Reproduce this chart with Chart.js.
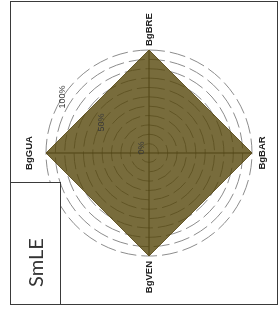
<!DOCTYPE html>
<html>
<head>
<meta charset="utf-8">
<script src="https://cdn.jsdelivr.net/npm/chart.js@4"></script>
<style>
  body { margin: 0; background: #fff; overflow: hidden; }
  /* the whole figure is drawn upright, then turned a quarter to the left */
  #figure {
    position: absolute; left: 0; top: 0;
    width: 312px; height: 278px;
    transform-origin: 0 0;
    transform: translate(0, 312px) rotate(-90deg);
  }
  #chart { position: absolute; left: 0; top: 0; }
  #frame {
    position: absolute; left: 7px; top: 10px;
    width: 302px; height: 266px;
    border: 1px solid #3a3a3a;
  }
  #legend {
    position: absolute; left: 7px; top: 10px;
    height: 49px;
    border: 1px solid #3a3a3a;
    background: #fff;
    font: 20px Lato, "Open Sans", sans-serif;
    color: #333;
    line-height: 49px;
    padding-left: 17px;
    width: 104px;
  }
</style>
</head>
<body>
<div id="figure">
  <canvas id="chart" width="312" height="278"></canvas>
  <div id="frame"></div>
  <div id="legend">SmLE</div>
</div>
<script>
// Data
const categories = ["BgGUA", "BgBRE", "BgBAR", "BgVEN"];
const seriesName = "SmLE";
const seriesValues = [100, 100, 100, 100];
const scaleMin = -10;
const scaleMax = 100;
const tickStep = 10;
const tickLabelValues = [0, 50, 100];

// label spacing from the outer ring, per axis
const pointLabelPad = [12, 4, 6, 5];
const tickLabelAngle = 33 * Math.PI / 180;

// Draws axis names and percentage labels
const labelPlugin = {
  id: "labels",
  afterDraw(chart) {
    const scale = chart.scales.r;
    const ctx = chart.ctx;
    ctx.save();

    ctx.fillStyle = "#222";
    ctx.font = "bold 9.5px 'Liberation Sans', Arial, sans-serif";
    categories.forEach((name, i) => {
      const pos = scale.getPointPosition(i, scale.drawingArea + pointLabelPad[i]);
      const a = scale.getIndexAngle(i);
      const sx = Math.sin(a), cy = -Math.cos(a);
      ctx.textAlign = Math.abs(sx) < 0.1 ? "center" : (sx > 0 ? "left" : "right");
      ctx.textBaseline = Math.abs(cy) < 0.1 ? "middle" : (cy < 0 ? "bottom" : "top");
      ctx.fillText(name, pos.x, pos.y);
    });

    ctx.fillStyle = "#3a3a3a";
    ctx.font = "9px 'Liberation Sans', Arial, sans-serif";
    ctx.textAlign = "center";
    ctx.textBaseline = "middle";
    tickLabelValues.forEach((v) => {
      const d = scale.getDistanceFromCenterForValue(v);
      const x = scale.xCenter + Math.sin(tickLabelAngle) * d;
      const y = scale.yCenter - Math.cos(tickLabelAngle) * d;
      ctx.fillText(v + "%", x, y);
    });

    ctx.restore();
  },
};

new Chart(document.getElementById("chart"), {
  type: "radar",
  data: {
    labels: categories,
    datasets: [
      {
        label: seriesName,
        data: seriesValues,
        backgroundColor: "rgba(86, 71, 11, 0.8)",
        borderColor: "rgba(92, 78, 28, 0.9)",
        borderWidth: 1,
        pointRadius: 0,
        fill: "start",
      },
    ],
  },
  options: {
    responsive: false,
    animation: false,
    layout: {
      padding: { left: 56, top: 46, right: 50, bottom: 26 },
    },
    plugins: {
      legend: { display: false },
      tooltip: { enabled: false },
    },
    scales: {
      r: {
        min: scaleMin,
        max: scaleMax,
        ticks: {
          display: false,
          stepSize: tickStep,
        },
        pointLabels: { display: false },
        grid: {
          circular: true,
          color: "#8c8c8c",
          lineWidth: 1,
        },
        border: {
          dash: [16, 5],
        },
        angleLines: {
          color: "#333",
          lineWidth: 1,
        },
      },
    },
  },
  plugins: [labelPlugin],
});
</script>
</body>
</html>
